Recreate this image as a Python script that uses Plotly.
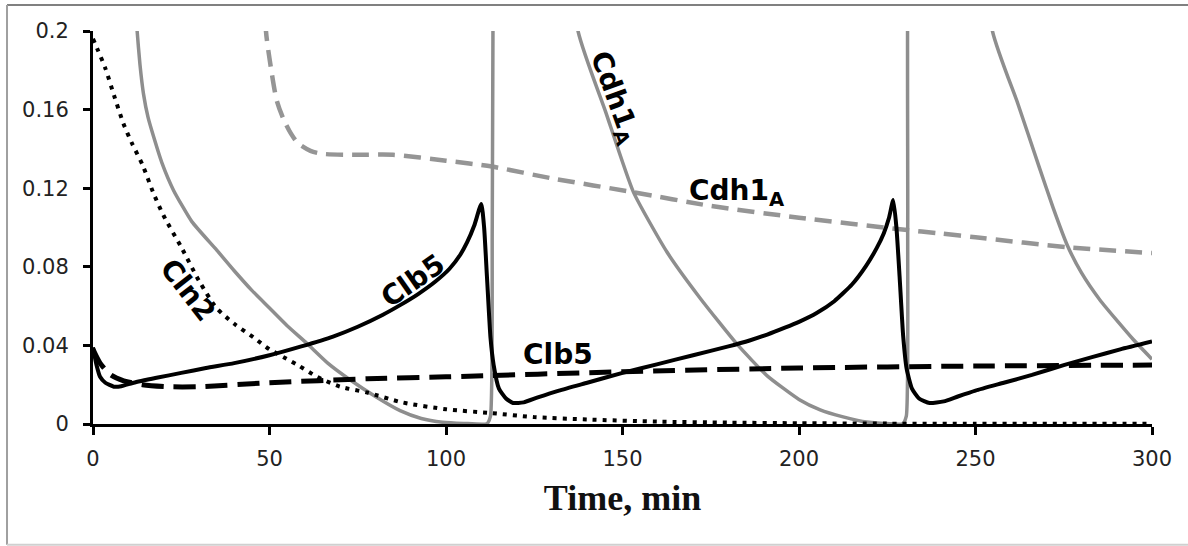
import plotly.graph_objects as go

# ---------------- data ----------------
cln2_t = [0, 1.2, 3.5, 6, 8.6, 11, 14, 17, 20, 25, 30, 35, 40, 45.5, 50, 54, 58,
          63.5, 70, 77.7, 87.6, 100, 112.6, 125, 140, 160, 180, 200, 225, 250, 275, 300]
cln2_v = [0.196, 0.191, 0.181, 0.167, 0.153, 0.143, 0.132, 0.118, 0.106, 0.090,
          0.073, 0.059, 0.051, 0.044, 0.038, 0.034, 0.030, 0.024, 0.019, 0.016,
          0.011, 0.0075, 0.0056, 0.0035, 0.0023, 0.0012, 0.0007, 0.0004, 0.0002,
          0.0001, 0.0001, 0.0001]

clb5_t = [0, 1, 2, 3.5, 5.9, 8, 11.5, 18, 25, 32, 40, 50, 59, 68, 75, 82, 87, 92,
          97, 101, 104, 106, 108, 110, 110.8, 111.6, 112.6, 113.5, 115, 117, 119,
          122, 126, 132, 140, 150, 160, 170, 180, 186, 191, 196, 200, 205, 210,
          215, 219, 222, 224, 225.5, 226.7, 227.6, 228.5, 229.5, 230.5, 232, 234,
          237, 241, 245, 250, 258, 266, 275, 283, 291, 300]
clb5_v = [0.039, 0.030, 0.024, 0.021, 0.019, 0.0192, 0.021, 0.0235, 0.026, 0.0285,
          0.031, 0.035, 0.0395, 0.0445, 0.0495, 0.0555, 0.0605, 0.066, 0.0725, 0.079,
          0.086, 0.0925, 0.101, 0.112, 0.100, 0.075, 0.044, 0.030, 0.018, 0.013,
          0.0107, 0.011, 0.0135, 0.017, 0.021, 0.026, 0.0305, 0.035, 0.0395, 0.0425,
          0.0455, 0.049, 0.052, 0.0565, 0.0625, 0.071, 0.0805, 0.0895, 0.097, 0.105,
          0.114, 0.100, 0.075, 0.045, 0.028, 0.018, 0.013, 0.0107, 0.0115, 0.014,
          0.017, 0.021, 0.025, 0.030, 0.034, 0.038, 0.042]

clb5d_t = [0, 2, 5, 8.7, 14, 21, 30, 50, 77.7, 100, 150, 200, 250, 300]
clb5d_v = [0.038, 0.031, 0.025, 0.022, 0.020, 0.019, 0.019, 0.021, 0.023, 0.024,
           0.0266, 0.0285, 0.0295, 0.030]

cdh1_t = [9, 11, 12.5, 13.3, 14.3, 15.6, 17.2, 19.5, 22.8, 28, 35, 40, 45, 50, 55,
          60.6, 66.5, 72.9, 80, 87, 93, 99, 105, 111.6, 112.6, 113.1, 113.5, 114.5,
          125, 137.4, 145.2, 153.1, 162.6, 172, 182.5, 191, 200, 206, 212.5, 218,
          224, 229.4, 230.4, 230.8, 231.3, 240, 254.8, 262, 268, 272, 276, 280,
          285.3, 294.7, 300]
cdh1_v = [0.33, 0.24, 0.200, 0.183, 0.168, 0.156, 0.146, 0.133, 0.119, 0.103,
          0.0886, 0.078, 0.068, 0.059, 0.050, 0.041, 0.031, 0.0224, 0.014, 0.0068,
          0.0028, 0.0009, 0.0003, 0.0002, 0.004, 0.10, 0.30, 0.55, 0.40, 0.200,
          0.159, 0.118, 0.0875, 0.064, 0.0405, 0.0245, 0.0125, 0.0072, 0.0036,
          0.0013, 0.0003, 0.0002, 0.004, 0.10, 0.30, 0.45, 0.200, 0.163, 0.131,
          0.110, 0.091, 0.077, 0.063, 0.043, 0.033]

cdh1d_t = [48.7, 49, 50, 52, 54, 56, 58, 61.6, 65, 75, 85, 100, 113, 130, 153, 175,
           200, 230.7, 240, 250, 276, 300]
cdh1d_v = [0.23, 0.20, 0.186, 0.165, 0.155, 0.148, 0.143, 0.139, 0.1375, 0.137,
           0.137, 0.134, 0.131, 0.125, 0.118, 0.111, 0.105, 0.0987, 0.097, 0.095,
           0.090, 0.087]

x_ticks = [0, 50, 100, 150, 200, 250, 300]
y_ticks = [0, 0.04, 0.08, 0.12, 0.16, 0.2]
y_tick_text = ["0", "0.04", "0.08", "0.12", "0.16", "0.2"]

GRAY = "#8e8e8e"

fig = go.Figure()
fig.add_trace(go.Scatter(x=cdh1d_t, y=cdh1d_v, mode="lines",
                         line=dict(color="#959595", width=4.5, dash="17px,9px",
                                   shape="spline", smoothing=0.7),
                         name="Cdh1A (dashed)"))
fig.add_trace(go.Scatter(x=cdh1_t, y=cdh1_v, mode="lines",
                         line=dict(color=GRAY, width=3.5, shape="spline", smoothing=0.5),
                         name="Cdh1A"))
fig.add_trace(go.Scatter(x=cln2_t, y=cln2_v, mode="lines",
                         line=dict(color="black", width=4, dash="4px,6px",
                                   shape="spline", smoothing=0.7),
                         name="Cln2"))
fig.add_trace(go.Scatter(x=clb5d_t, y=clb5d_v, mode="lines",
                         line=dict(color="black", width=5, dash="22px,10px",
                                   shape="spline", smoothing=0.7),
                         name="Clb5 (dashed)"))
fig.add_trace(go.Scatter(x=clb5_t, y=clb5_v, mode="lines",
                         line=dict(color="black", width=4, shape="spline", smoothing=0.5),
                         name="Clb5"))

ann_font = dict(family="DejaVu Sans", size=28, color="black")
labels = [
    dict(x=27, y=0.068, text="<b>Cln2</b>", textangle=52),
    dict(x=90.7, y=0.073, text="<b>Clb5</b>", textangle=-35),
    dict(x=131.8, y=0.0356, text="<b>Clb5</b>", textangle=0),
    dict(x=147.5, y=0.166, text="<b>Cdh1<sub>A</sub></b>", textangle=70),
    dict(x=182.5, y=0.118, text="<b>Cdh1<sub>A</sub></b>", textangle=0),
]
for a in labels:
    fig.add_annotation(xref="x", yref="y", showarrow=False, font=ann_font, **a)

# outer frame (top, left, bottom)
frame = dict(xref="paper", yref="paper", type="line")
fig.add_shape(x0=-0.0812, x1=1.04, y0=1.0662, y1=1.0662,
              line=dict(color="#808080", width=2), **frame)
fig.add_shape(x0=-0.0812, x1=-0.0812, y0=1.0662, y1=-0.307,
              line=dict(color="#a0a0a0", width=2), **frame)
fig.add_shape(x0=-0.0812, x1=1.04, y0=-0.307, y1=-0.307,
              line=dict(color="#d0d0d0", width=2), **frame)

fig.update_layout(
    width=1188, height=546,
    margin=dict(l=93, r=36, t=31, b=122),
    paper_bgcolor="white", plot_bgcolor="white",
    showlegend=False,
    font=dict(family="DejaVu Sans", size=21, color="#222"),
)
fig.update_xaxes(range=[0, 300], tickvals=x_ticks, showgrid=False, zeroline=False,
                 showline=True, linecolor="black", linewidth=3,
                 ticks="outside", ticklen=8, tickwidth=2.5, tickcolor="black",
                 ticklabelstandoff=6,
                 tickfont=dict(family="DejaVu Sans", size=21, color="#222"),
                 title=dict(text="<b>Time, min</b>", standoff=15,
                            font=dict(family="Liberation Serif", size=36, color="#111")))
fig.update_yaxes(range=[0, 0.2], tickvals=y_ticks, ticktext=y_tick_text,
                 showgrid=False, zeroline=False,
                 showline=True, linecolor="black", linewidth=3,
                 ticks="outside", ticklen=7, tickwidth=2.5, tickcolor="black",
                 ticklabelstandoff=10,
                 tickfont=dict(family="DejaVu Sans", size=21, color="#222"))

fig.write_html("out.html")
